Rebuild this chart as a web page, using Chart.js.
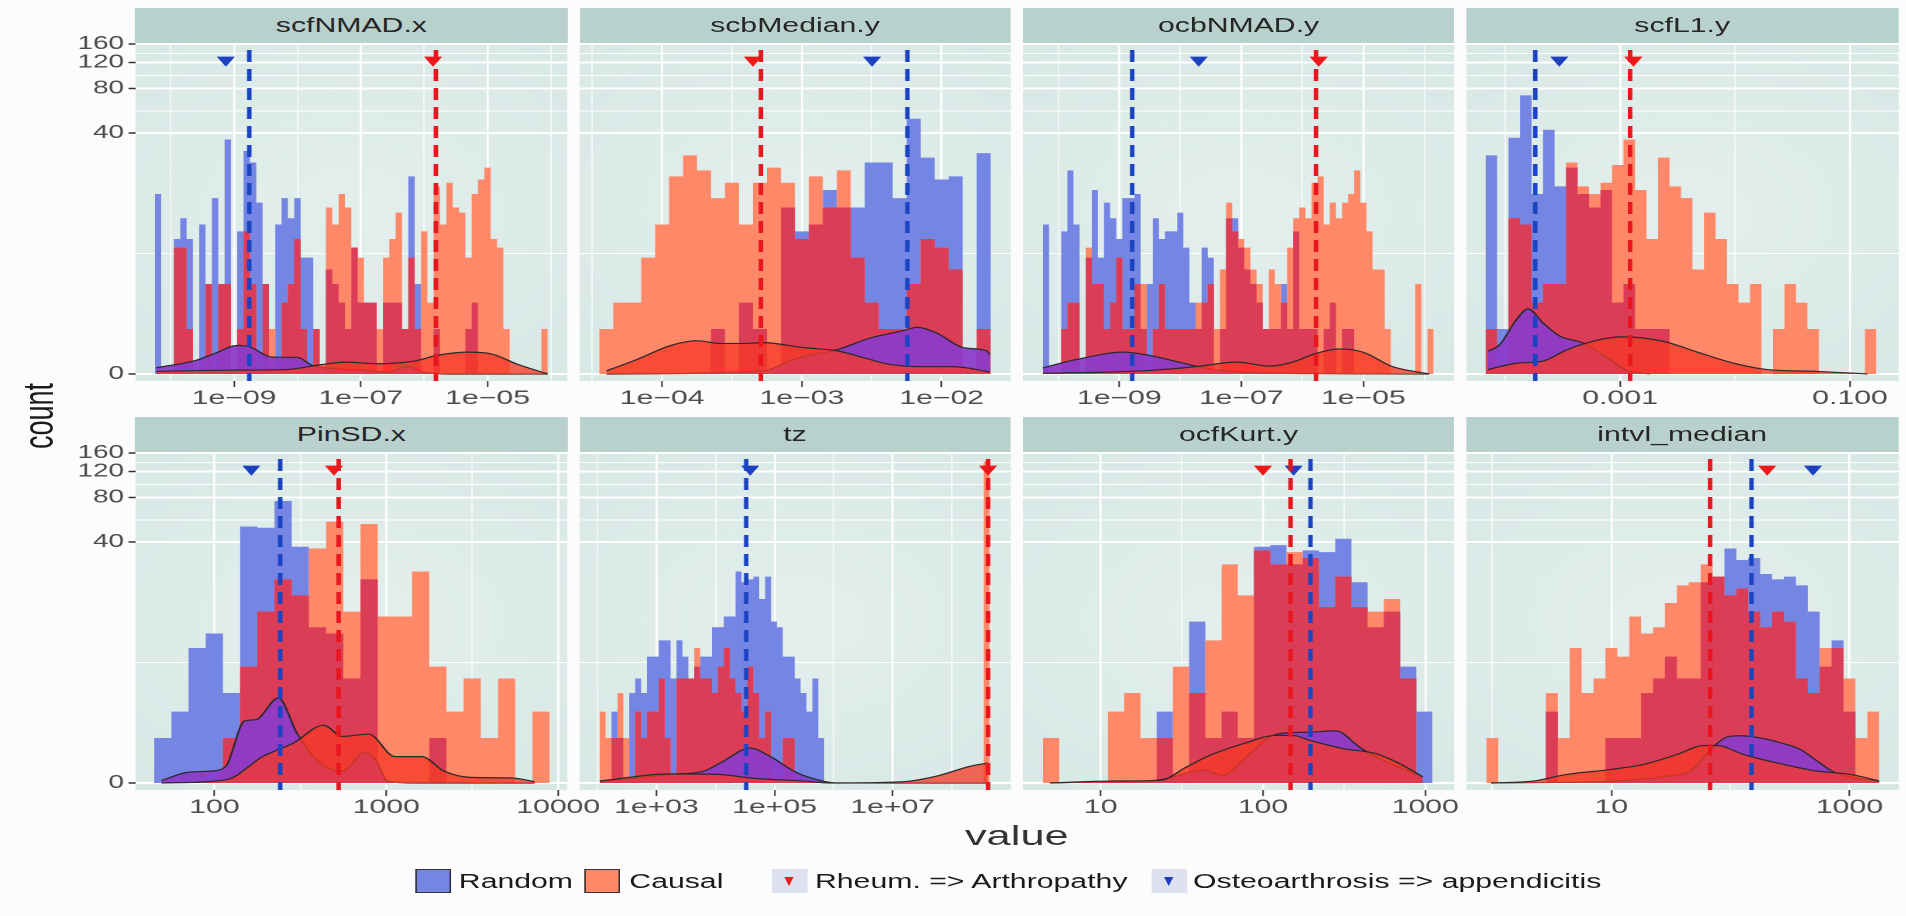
<!DOCTYPE html>
<html>
<head>
<meta charset="utf-8">
<title>Random vs causal pairs</title>
<script src="https://cdn.jsdelivr.net/npm/chart.js@4.4.1/dist/chart.umd.min.js"></script>
<style>
  html, body { margin: 0; padding: 0; background: #fcfcfc; overflow: hidden; }
  body { width: 1906px; height: 916px; position: relative; }
  /* the reference is stretched sideways, so the whole figure is laid out narrow and scaled */
  #stage { position: absolute; left: 0; top: 0; width: 1229.7px; height: 916px;
           transform: scaleX(1.55); transform-origin: 0 0;
           font-family: "Liberation Sans", Arial, Helvetica, sans-serif; }
  .panel { position: absolute; }
  .strip { position: absolute; background: #b9d1cd; color: #262626; font-size: 19.5px;
           text-align: center; z-index: 3; }
  .lbl { position: absolute; white-space: nowrap; }
  #ytitle { left: 26px; top: 416px; font-size: 27px; color: #1a1a1a;
            transform: translate(-50%, -50%) rotate(-90deg); }
  #xtitle { left: 656px; top: 822px; font-size: 28px; line-height: 28px; color: #333;
            transform: translateX(-50%); }
  .key { position: absolute; top: 869px; width: 23.2px; height: 24px; box-sizing: border-box; }
  .key.fill { border: 1px solid #333; }
  .key.tri { background: #dde1f0; }
  .key.tri span { position: absolute; left: 50%; top: 8px; width: 0; height: 0;
                  margin-left: -3.6px; border-left: 3.6px solid transparent;
                  border-right: 3.6px solid transparent; border-top: 9px solid; }
  .ltxt { position: absolute; top: 869px; line-height: 24px; font-size: 19.5px; color: #1a1a1a; white-space: nowrap; }
</style>
</head>
<body>
<div id="stage">
  <div class="lbl" id="ytitle">count</div>
  <div class="lbl" id="xtitle">value</div>

  <div class="key fill" style="left:267.7px; background:#7585e3;"></div>
  <div class="ltxt" style="left:296px;">Random</div>
  <div class="key fill" style="left:376.8px; background:#ff8869;"></div>
  <div class="ltxt" style="left:406px;">Causal</div>
  <div class="key tri" style="left:498px;"><span style="border-top-color:#f01818;"></span></div>
  <div class="ltxt" style="left:525.8px;">Rheum. =&gt; Arthropathy</div>
  <div class="key tri" style="left:742.6px;"><span style="border-top-color:#1c40c0;"></span></div>
  <div class="ltxt" style="left:769.7px;">Osteoarthrosis =&gt; appendicitis</div>
</div>

<script>
// ---- data ----
const panelNames = ['scfNMAD.x', 'scbMedian.y', 'ocbNMAD.y', 'scfL1.y',
                    'PinSD.x', 'tz', 'ocfKurt.y', 'intvl_median'];

const countTicks = [0, 40, 80, 120, 160];   // y axis is log10(count + 1)
const binWidth = 0.1;                        // histogram bins, log10 units
const binStart = [-10.25, -4.45, -10.25, -4.17, 1.65, 2.04, 0.645, -0.05];

const random1 = [15,0,0,7,10,7,0,9,3,14, 3,36,0,8,30,25,13,3,0,9, 14,10,14,5,5,1,0,4,3,2,
                 1,6,2,2,2,0,2,2,2,1, 20,3,0,0,1,0,0,0,0,1, 2,0,0,0,0,0,0,0,0,0, 0,0];
const causal1 = [0,0,0,6,6,1,0,0,3,0, 3,3,0,1,8,3,0,3,1,0, 2,3,7,1,0,1,0,12,9,15,
                 12,6,5,2,2,1,5,7,11,1, 5,1,8,2,17,9,18,12,11,5, 15,19,23,7,6,1,0,0,0,0, 0,1];
const random2 = [0,0,0,0,0,0,0,0,1,0, 2,1,0,12,8,9,16,12,12,25, 25,14,50,27,19,20,0,29];
const causal2 = [1,2,2,5,9,20,28,22,14,18, 9,18,23,18,7,20,12,22,5,2, 1,1,3,7,6,4,0,1];
const random3 = [9,0,0,8,22,9,0,5,16,5, 13,10,7,14,14,15,1,3,10,7, 8,8,11,6,2,1,6,5,0,1,
                 10,10,6,4,3,2,1,1,1,3, 1,8,1,1,1,0,1,2,0,1, 1,0,0,0,0,0,0,0,0,0, 0,0,0,0];
const causal3 = [0,0,0,1,2,2,0,6,3,3, 1,2,5,1,1,3,3,0,1,3, 1,1,1,1,1,2,2,3,1,4,
                 13,8,7,6,4,3,1,4,3,2, 6,10,12,10,18,20,9,13,10,13, 15,22,13,8,4,4,1,0,0,0, 0,3,0,1];
const random4 = [28,1,37,72,15,42,17,23,15,12, 16,2,3,1,1,1,0,0,0,0, 0,0,0,0,0,0,0,0,0,0, 0,0,0,0];
const causal4 = [1,0,10,9,2,3,3,25,17,15, 18,24,36,16,7,27,17,14,4,11, 7,3,2,3,0,1,3,2,1,0, 0,0,0,1];
const random5 = [1,2,7,9,3,51,50,76,37,10, 9,4,22,0,0,0,1,0,0,0, 0,0,0];
const causal5 = [0,0,0,0,1,5,13,22,17,36, 55,13,53,12,12,25,5,2,4,1, 4,0,2];
const random6 = [0,0,2,1,0,3,4,3,6,6, 8,8,4,8,6,4,5,6,6,10, 10,12,12,25,21,22,23,16,23,11,
                 10,6,6,4,3,2,4,1,0,0, 0,0,0,0,0,0,0,0,0,0, 0,0,0,0,0,0,0,0,0,0, 0,0,0,0,0,0];
const causal6 = [2,1,1,3,1,0,2,1,2,2, 4,1,0,4,4,4,7,4,4,3, 5,7,4,3,2,5,3,1,2,0,
                 0,1,1,0,0,0,0,0,0,0, 0,0,0,0,0,0,0,0,0,0, 0,0,0,0,0,0,0,0,0,0, 0,0,0,0,0,140];
const random7 = [0,0,0,0,0,0,0,2,0,11, 1,2,1,37,38,28,35,34,42,21, 10,13,5,2];
const causal7 = [1,0,0,0,2,3,1,1,5,3, 8,28,17,35,28,34,31,14,23,14, 13,16,4,0];
const random8 = [0,0,0,0,0,2,0,0,0,0, 1,1,1,3,4,6,4,4,21,23, 36,30,31,24,22,23,20,13,5,8, 2,0,0];
const causal8 = [1,0,0,0,0,3,1,7,3,4, 7,6,12,9,10,15,20,21,28,23, 17,19,13,10,13,11,4,3,7,7, 4,1,2];

// density curves: [log10(value), height in count units]
const densRandom1 = [[-10.23,0.1],[-9.61,0.23],[-9.31,0.37],[-8.95,0.55],[-8.74,0.51],[-8.42,0.3],[-8.0,0.29],
                     [-7.76,0.14],[-7.35,0.08],[-6.99,0.06],[-6.58,0.03],[-6.25,0.12],[-5.98,0.02],[-5.57,0],[-4.05,0]];
const densCausal1 = [[-10.23,0.04],[-9.13,0.06],[-8.18,0.07],[-7.65,0.15],[-7.23,0.2],[-6.75,0.17],[-6.16,0.22],
                     [-5.8,0.33],[-5.33,0.4],[-4.97,0.37],[-4.5,0.15],[-4.05,0]];
const densRandom2 = [[-4.398,0],[-3.274,0.05],[-3.107,0.2],[-2.988,0.31],[-2.75,0.45],[-2.512,0.74],[-2.274,0.95],
                     [-2.179,1.05],[-2.036,0.88],[-1.845,0.5],[-1.679,0.43],[-1.655,0.35]];
const densCausal2 = [[-4.398,0.05],[-4.179,0.25],[-3.94,0.55],[-3.75,0.67],[-3.583,0.6],[-3.417,0.6],[-3.274,0.62],
                     [-2.988,0.5],[-2.75,0.43],[-2.512,0.25],[-2.393,0.17],[-2.155,0.12],[-1.917,0.12],[-1.655,0.03]];
const densRandom3 = [[-10.25,0.1],[-9.7,0.25],[-8.93,0.4],[-8.5,0.33],[-7.95,0.18],[-7.52,0.08],[-6.97,0.03],
                     [-6.43,0.01],[-3.92,0]];
const densCausal3 = [[-10.25,0.01],[-8.6,0.05],[-7.74,0.12],[-7.08,0.2],[-6.54,0.13],[-6.16,0.2],[-5.78,0.37],
                     [-5.39,0.47],[-5.01,0.4],[-4.52,0.12],[-3.92,0]];
const densRandom4 = [[-4.148,0.42],[-4.047,0.57],[-3.901,1.31],[-3.8,1.72],[-3.669,1.19],[-3.523,0.79],[-3.32,0.61],
                     [-3.087,0.25],[-2.942,0.06],[-2.738,0]];
const densCausal4 = [[-4.148,0.07],[-3.901,0.18],[-3.669,0.22],[-3.465,0.45],[-3.174,0.7],[-2.971,0.77],[-2.622,0.65],
                     [-2.302,0.38],[-2.012,0.18],[-1.721,0.07],[-1.285,0.04],[-0.849,0]];
const densRandom5 = [[1.693,0.04],[1.847,0.18],[1.978,0.2],[2.066,0.29],[2.175,1.6],[2.241,1.65],[2.372,2.7],
                     [2.482,1.14],[2.613,0.36],[2.745,0.2],[2.876,0.61],[2.942,0.4],[3.007,0.03],[3.161,0],[3.862,0]];
const densCausal5 = [[1.693,0],[2.066,0.05],[2.285,0.51],[2.46,0.85],[2.635,1.43],[2.745,1.05],[2.898,1.12],
                     [3.051,0.5],[3.205,0.5],[3.336,0.2],[3.489,0.09],[3.73,0.08],[3.862,0.02]];
const densRandom6 = [[2.04,0.03],[2.67,0.08],[3.24,0.14],[3.8,0.2],[4.08,0.36],[4.59,0.71],[4.93,0.5],[5.38,0.17],
                     [5.77,0.04],[6.05,0],[8.61,0]];
const densCausal6 = [[2.04,0.03],[3.24,0.15],[4.08,0.14],[4.59,0.08],[5.49,0.03],[5.94,0],[7.18,0.02],[7.74,0.11],
                     [8.3,0.29],[8.61,0.36]];
const densRandom7 = [[0.689,0],[1.057,0.02],[1.365,0.05],[1.631,0.215],[1.754,0.125],[1.877,0.42],[2.041,1.03],
                     [2.143,1.16],[2.287,1.19],[2.451,1.23],[2.594,0.74],[2.738,0.42],[2.984,0.1]];
const densCausal7 = [[0.689,0],[1.057,0.03],[1.365,0.04],[1.529,0.28],[1.672,0.53],[1.877,0.83],[2.082,1.08],
                     [2.184,1.08],[2.287,0.93],[2.492,0.7],[2.697,0.57],[2.84,0.35],[2.984,0.1]];
const densRandom8 = [[-0.008,0],[1.045,0.03],[1.466,0.11],[1.663,0.2],[1.831,0.67],[1.972,1.03],[2.084,1.07],
                     [2.253,1.0],[2.449,0.83],[2.59,0.67],[2.73,0.4],[2.871,0.18],[3.25,0.02]];
const densCausal8 = [[-0.008,0],[0.343,0.03],[0.624,0.14],[0.989,0.23],[1.27,0.33],[1.551,0.55],[1.775,0.78],
                     [1.888,0.78],[2.112,0.55],[2.449,0.33],[2.73,0.2],[3.011,0.14],[3.25,0.03]];

// dashed medians and pair markers, log10(value)
const medianRandomLog = [-8.76, -2.245, -8.788, -3.738, 2.383, 4.52, 2.293, 2.177];
const medianCausalLog = [-5.815, -3.293, -5.776, -2.913, 2.723, 8.614, 2.17, 1.829];
const rheumLog = [-5.86, -3.35, -5.732, -2.884, 2.696, 8.614, 2.0, 2.309];
const osteoLog = [-9.13, -2.498, -7.698, -3.529, 2.215, 4.588, 2.189, 2.694];
const markerCount = 125;

// axis limits (log10) and breaks
const xLimLog = [[-10.556,-3.741],[-4.59,-1.505],[-10.578,-3.513],[-4.337,-0.575],
                 [1.541,4.053],[1.70,9.0],[0.521,3.178],[-0.218,3.415]];
const xBreaks = [[1e-9,1e-7,1e-5],[1e-4,1e-3,1e-2],[1e-9,1e-7,1e-5],[0.001,0.1],
                 [100,1000,10000],[1e3,1e5,1e7],[10,100,1000],[10,1000]];
const xLabels = [['1e\u221209','1e\u221207','1e\u221205'],['1e\u221204','1e\u221203','1e\u221202'],
                 ['1e\u221209','1e\u221207','1e\u221205'],['0.001','0.100'],
                 ['100','1000','10000'],['1e+03','1e+05','1e+07'],['10','100','1000'],['10','1000']];
const yLim = [-0.047, 2.214];

const randomCounts = [random1, random2, random3, random4, random5, random6, random7, random8];
const causalCounts = [causal1, causal2, causal3, causal4, causal5, causal6, causal7, causal8];
const densRandom = [densRandom1, densRandom2, densRandom3, densRandom4, densRandom5, densRandom6, densRandom7, densRandom8];
const densCausal = [densCausal1, densCausal2, densCausal3, densCausal4, densCausal5, densCausal6, densCausal7, densCausal8];

// ---- layout (natural, unstretched px) ----
const colLeft = [87.4, 373.6, 659.8, 946.0];
const panelW = 278.6;
const rowTop = [43, 451.7];
const plotH = 338, stripH = 35, padTop = 12, axisH = 35, sidePad = 30;

Chart.defaults.font.family = '"Liberation Sans", Arial, Helvetica, sans-serif';

const lp = c => Math.log10(1 + c);
const yMajor = countTicks.map(lp);
const yAll = [];
yMajor.forEach((v, j) => { if (j > 0) yAll.push((yMajor[j - 1] + v) / 2); yAll.push(v); });
const isYMajor = v => yMajor.some(m => Math.abs(m - v) < 1e-6);

function histData(start, counts) {
  const pts = counts.map((c, k) => ({ x: Math.pow(10, start + k * binWidth), y: lp(c) }));
  pts.push({ x: Math.pow(10, start + counts.length * binWidth), y: 0 });
  return pts;
}
function densData(arr) {
  return arr.map(p => ({ x: Math.pow(10, p[0]), y: lp(p[1]) }));
}

const bgPlugin = {
  id: 'panelBg',
  beforeDraw(chart) {
    const { ctx, chartArea: a } = chart;
    const g = ctx.createRadialGradient((a.left + a.right) / 2, (a.top + a.bottom) / 2, 10,
                                       (a.left + a.right) / 2, (a.top + a.bottom) / 2, a.height * 0.75);
    g.addColorStop(0, '#e3efed');
    g.addColorStop(1, '#d6e7e4');
    ctx.save();
    ctx.fillStyle = g;
    ctx.fillRect(a.left, a.top, a.width, a.height);
    ctx.restore();
  }
};

function medianLines(i) {
  return {
    id: 'medians',
    afterDatasetsDraw(chart) {
      const { ctx, chartArea: a, scales } = chart;
      ctx.save();
      ctx.beginPath();
      ctx.rect(a.left, a.top, a.width, a.height);
      ctx.clip();
      ctx.lineWidth = 2.9;
      ctx.setLineDash([12, 7]);
      [[medianCausalLog[i], '#e8161f'], [medianRandomLog[i], '#1b44c2']].forEach(([lv, col]) => {
        const px = scales.x.getPixelForValue(Math.pow(10, lv));
        ctx.strokeStyle = col;
        ctx.beginPath();
        ctx.moveTo(px, a.top + 7);
        ctx.lineTo(px, a.bottom);
        ctx.stroke();
      });
      ctx.restore();
    }
  };
}

const stage = document.getElementById('stage');

panelNames.forEach((name, i) => {
  const col = i % 4, row = Math.floor(i / 4);
  const left = col === 0 ? 0 : colLeft[col] - sidePad;
  const width = (col === 0 ? colLeft[0] : sidePad) + panelW + sidePad;

  const strip = document.createElement('div');
  strip.className = 'strip';
  strip.style.left = colLeft[col] + 'px';
  strip.style.top = (rowTop[row] - stripH) + 'px';
  strip.style.width = panelW + 'px';
  strip.style.height = stripH + 'px';
  strip.style.lineHeight = stripH + 'px';
  strip.textContent = name;
  stage.appendChild(strip);

  const box = document.createElement('div');
  box.className = 'panel';
  box.style.left = left + 'px';
  box.style.top = (rowTop[row] - padTop) + 'px';
  box.style.width = width + 'px';
  box.style.height = (padTop + plotH + axisH) + 'px';
  const cv = document.createElement('canvas');
  box.appendChild(cv);
  stage.appendChild(box);

  const maj = xBreaks[i].map(v => Math.log10(v));
  const step = maj[1] - maj[0];
  const mins = [maj[0] - step / 2, maj[maj.length - 1] + step / 2];
  maj.forEach((v, j) => { if (j > 0) mins.push((maj[j - 1] + v) / 2); });
  const [lo, hi] = xLimLog[i];
  const xAll = maj.concat(mins).filter(v => v >= lo && v <= hi).sort((a, b) => a - b);
  const majIndex = v => maj.findIndex(m => Math.abs(Math.log10(v) - m) < 1e-6);

  const rnd = randomCounts[i], cau = causalCounts[i];
  const both = rnd.map((r, k) => Math.min(r, cau[k]));

  new Chart(cv, {
    type: 'line',
    data: {
      datasets: [
        { data: [{ x: Math.pow(10, rheumLog[i]), y: lp(markerCount) },
                 { x: Math.pow(10, osteoLog[i]), y: lp(markerCount) }],
          showLine: false, pointStyle: 'triangle', pointRotation: 180, pointRadius: 6.8,
          pointBackgroundColor: ['#f01818', '#1c40c0'], pointBorderWidth: 0, order: 0 },
        { data: densData(densCausal[i]), fill: 'origin', backgroundColor: 'rgba(246,58,38,0.76)',
          borderColor: '#2a2a2a', borderWidth: 1.2, pointRadius: 0, cubicInterpolationMode: 'monotone', order: 1 },
        { data: densData(densRandom[i]), fill: 'origin', backgroundColor: 'rgba(140,60,202,0.94)',
          borderColor: '#2a2a2a', borderWidth: 1.2, pointRadius: 0, cubicInterpolationMode: 'monotone', order: 2 },
        { data: histData(binStart[i], both), stepped: true, fill: 'origin', backgroundColor: '#dc3d56',
          borderWidth: 0, pointRadius: 0, order: 3 },
        { data: histData(binStart[i], cau), stepped: true, fill: 'origin', backgroundColor: '#ff8869',
          borderWidth: 0, pointRadius: 0, order: 4 },
        { data: histData(binStart[i], rnd), stepped: true, fill: 'origin', backgroundColor: '#7585e3',
          borderWidth: 0, pointRadius: 0, order: 5 }
      ]
    },
    options: {
      responsive: true,
      maintainAspectRatio: false,
      animation: false,
      devicePixelRatio: 2,
      events: [],
      layout: { padding: { top: padTop, left: col === 0 ? 0 : sidePad, right: sidePad, bottom: 0 } },
      plugins: { legend: { display: false }, tooltip: { enabled: false } },
      scales: {
        x: {
          type: 'logarithmic',
          bounds: 'data',
          min: Math.pow(10, lo),
          max: Math.pow(10, hi),
          afterBuildTicks: s => { s.ticks = xAll.map(v => ({ value: Math.pow(10, v) })); },
          afterFit: s => { s.height = axisH; s.paddingLeft = 0; s.paddingRight = 0; },
          border: { display: false },
          grid: {
            color: '#ffffff',
            lineWidth: c => (c.tick && majIndex(c.tick.value) >= 0) ? 1.3 : 0.65,
            tickLength: 6,
            tickWidth: 1,
            tickColor: c => (c.tick && majIndex(c.tick.value) >= 0) ? '#333333' : 'rgba(0,0,0,0)'
          },
          ticks: {
            autoSkip: false, maxRotation: 0, minRotation: 0, padding: 0,
            color: '#4d4d4d', font: { size: 19.5 },
            callback: v => { const j = majIndex(v); return j >= 0 ? xLabels[i][j] : ''; }
          }
        },
        y: {
          type: 'linear',
          bounds: 'data',
          min: yLim[0],
          max: yLim[1],
          afterBuildTicks: s => { s.ticks = yAll.map(v => ({ value: v })); },
          afterFit: s => { s.width = col === 0 ? colLeft[0] : 0; s.paddingTop = 0; s.paddingBottom = 0; },
          border: { display: false },
          grid: {
            color: '#ffffff',
            lineWidth: c => (c.tick && isYMajor(c.tick.value)) ? 2 : 1,
            drawTicks: col === 0,
            tickLength: 4.5,
            tickWidth: 1.5,
            tickColor: c => (c.tick && isYMajor(c.tick.value)) ? '#333333' : 'rgba(0,0,0,0)'
          },
          ticks: {
            display: col === 0,
            padding: 2.9,
            color: '#4d4d4d', font: { size: 18 },
            callback: v => {
              const j = yMajor.findIndex(m => Math.abs(m - v) < 1e-6);
              return j >= 0 ? String(countTicks[j]) : '';
            }
          }
        }
      }
    },
    plugins: [bgPlugin, medianLines(i)]
  });
});
</script>
</body>
</html>
